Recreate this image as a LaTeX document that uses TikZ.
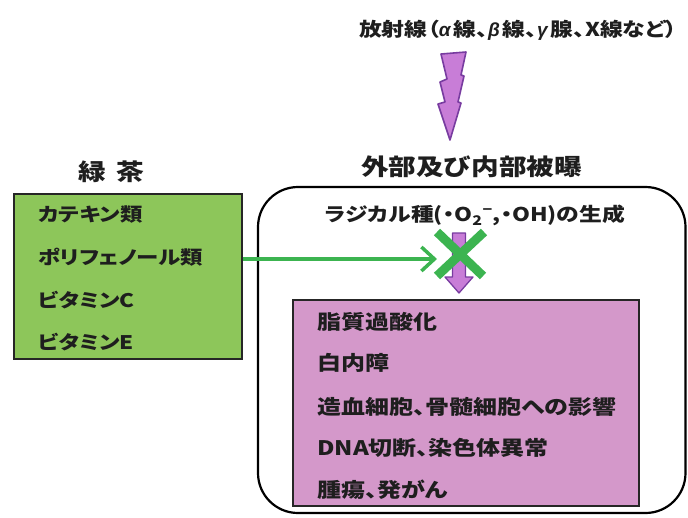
\documentclass[tikz,border=0pt]{standalone}
\usepackage{fontspec}
\newfontfamily\jp[FakeStretch=1.2]{Noto Sans CJK JP}
\newfontfamily\jpp[FakeStretch=1.2,RawFeature=+palt]{Noto Sans CJK JP}
\newfontfamily\gk{Liberation Sans}
\usetikzlibrary{arrows.meta}
\definecolor{teagreen}{RGB}{141,198,90}
\definecolor{xgreen}{RGB}{60,180,80}
\definecolor{pinkfill}{RGB}{212,152,202}
\definecolor{boltfill}{RGB}{200,125,215}
\definecolor{boltedge}{RGB}{120,60,160}
\definecolor{txt}{RGB}{30,30,30}
\tikzset{
  lbl/.style={text=txt, inner sep=0pt},
  bigtitle/.style={lbl, font=\jp\bfseries\fontsize{23}{26}\selectfont},
  toptitle/.style={lbl, font=\jpp\bfseries\fontsize{19}{24}\selectfont},
  radlabel/.style={lbl, font=\jpp\bfseries\fontsize{19}{24}\selectfont},
  greenitem/.style={lbl, anchor=west, font=\jpp\bfseries\fontsize{18.7}{22}\selectfont},
  pinkitem/.style={lbl, anchor=west, font=\jpp\bfseries\fontsize{20}{23}\selectfont},
  outerbox/.style={draw=black, line width=2.2pt, rounded corners=40pt},
  teabox/.style={draw=black!85, line width=1.5pt, fill=teagreen},
  effectbox/.style={draw=black!85, line width=1.8pt, fill=pinkfill},
  boltstyle/.style={draw=boltedge, fill=boltfill, line width=1.6pt, line join=round},
  greenline/.style={draw=xgreen, line width=3.5pt},
  crossline/.style={draw=xgreen, line width=9pt},
}
\begin{document}
\begin{tikzpicture}[x=1pt,y=-1pt]
\useasboundingbox (0,0) rectangle (688,517);
% top title
\node[toptitle] (rad) at (518,30) {放射線（{\gk\bfseries\itshape α}\,線、{\gk\bfseries\itshape β}\,線、{\gk\bfseries\itshape γ}\,腺、X線など）};
% lightning bolt
\draw[boltstyle] (441,54) -- (466,52) -- (461,75) -- (464,76) -- (458,102) -- (461,103) -- (450,140)
  -- (438,104) -- (445,102) -- (440,82) -- (447,79) -- cycle;
% exposure
\node[bigtitle] (exp) at (471.5,167) {外部及び内部被曝};
\draw[outerbox] (258,187) rectangle (685.5,513);
\node[radlabel] (radical) at (475,215) {ラジカル種(・O\textsubscript{2}\textsuperscript{−},・OH)の生成};
% green tea
\node[bigtitle] (tea) at (111.5,172) {緑\hspace{0.45em}茶};
\node[teabox, minimum width=228pt, minimum height=165pt, anchor=north west] (teabox) at (13,193) {};
\node[greenitem] (g1) at (38,215) {カテキン類};
\node[greenitem] (g2) at (38,257) {ポリフェノール類};
\node[greenitem] (g3) at (38,300) {ビタミンC};
\node[greenitem] (g4) at (38,342) {ビタミンE};
% effects
\node[effectbox, minimum width=346pt, minimum height=206pt, anchor=north west] (effect) at (292,299) {};
\node[pinkitem] (p1) at (317,322) {脂質過酸化};
\node[pinkitem] (p2) at (317,363) {白内障};
\node[pinkitem] (p3) at (317,407) {造血細胞、骨髄細胞への影響};
\node[pinkitem] (p4) at (317,448) {DNA切断、染色体異常};
\node[pinkitem] (p5) at (317,490) {腫瘍、発がん};
% purple down arrow
\draw[boltstyle, line width=1.3pt] (452.5,233) -- (465.5,233) -- (465.5,277) -- (473,277) -- (459,293) -- (445,277) -- (452.5,277) -- cycle;
% green X
\draw[crossline] (437,232) -- (483,276);
\draw[crossline] (484,232) -- (437,276);
% green arrow
\coordinate (tip) at (437,259);
\draw[greenline, -{Straight Barb[length=13pt,width=24pt,line width=3.5pt]}] (teabox.east |- tip) -- (tip);
\end{tikzpicture}
\end{document}
